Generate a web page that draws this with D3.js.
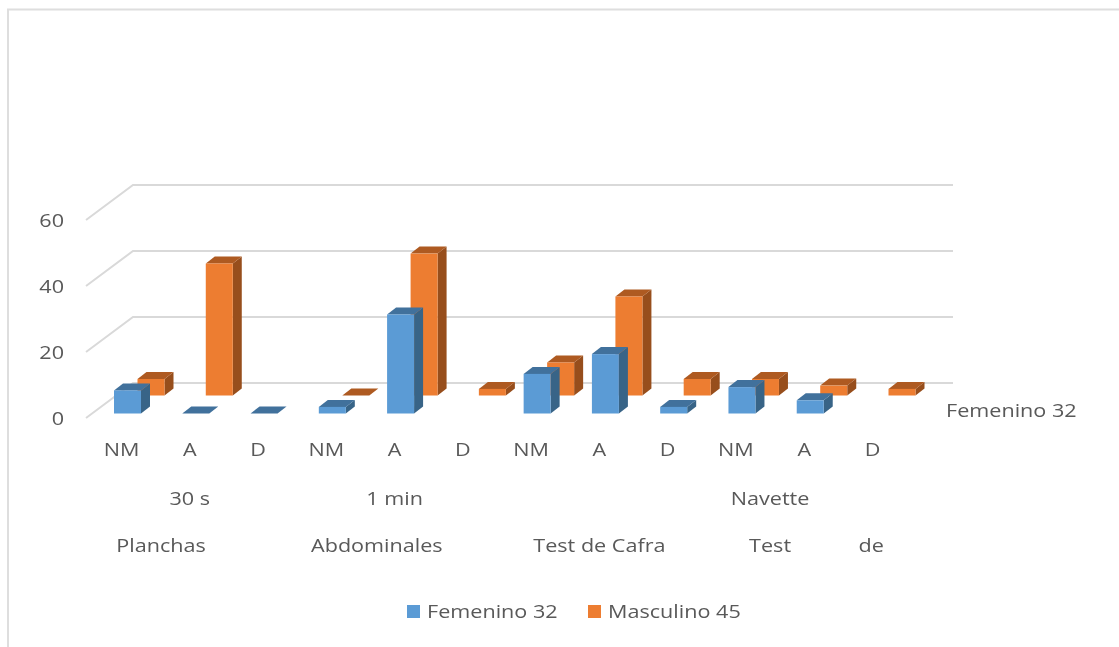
<!DOCTYPE html>
<html>
<head>
<meta charset="utf-8">
<script src="https://cdn.jsdelivr.net/npm/d3@7"></script>
<style>
  html, body { margin: 0; padding: 0; background: #fff; }
  svg { filter: blur(0.5px); }
  text { font-family: "Open Sans", sans-serif; font-size: 18px; fill: #595959; }
</style>
</head>
<body>
<div id="chart"></div>
<script>
// values, null = no bar drawn
const levels = ["NM", "A", "D", "NM", "A", "D", "NM", "A", "D", "NM", "A", "D"];
const femenino = [7, 0, 0, 2, 30, null, 12, 18, 2, 8, 4, null];
const masculino = [5, 40, null, 0, 43, 2, 10, 30, 5, 5, 3, 2];
const yTicks = [0, 20, 40, 60];
const seriesNames = ["Femenino 32", "Masculino 45"];
const seriesColors = ["#5b9bd5", "#ed7d31"];
const topColors = ["#41719c", "#ae5a21"];
const sideColors = ["#386487", "#974e1c"];
// text and the (fractional) category it is centred on
const labels2 = [["30 s", 1], ["1 min", 4], ["Navette", 9.5]];
const labels3 = [["Planchas", 0.58], ["Abdominales", 3.74], ["Test de Cafra", 7], ["Test", 9.5], ["de", 10.98]];

const width = 1119, height = 647;

const svg = d3.select("#chart").append("svg")
  .attr("width", width)
  .attr("height", height);

// frame of the pasted picture
svg.append("path")
  .attr("d", "M8 647V9.5H1119")
  .attr("fill", "none")
  .attr("stroke", "#dedede")
  .attr("stroke-width", 2);

const y = d3.scaleLinear().domain([0, 60]).range([413.5, 215.5]);
const x = d3.scaleLinear().domain([0, 11]).range([127.5, 878.5]);
const barW = 27;

// how far the second row and the walls sit from the front
const row = { dx: 23.5, dy: -18 };
const depth = { dx: 9, dy: -7 };
const wallFront = { x: 86, dy: 4.5 };
const wallBack = { x: 133, dy: -30.5 };

const grid = svg.append("g")
  .attr("fill", "none")
  .attr("stroke", "#d9d9d9")
  .attr("stroke-width", 2);

yTicks.forEach(t => {
  grid.append("path")
    .attr("d", "M" + wallFront.x + " " + (y(t) + wallFront.dy) + "L" + wallBack.x + " " + (y(t) + wallBack.dy) + "H953");
});

// the text in the picture is stretched sideways
function place(px, py) {
  return "translate(" + px + "," + py + ") scale(1.2,1)";
}

svg.append("g").selectAll("text")
  .data(yTicks)
  .enter().append("text")
  .attr("transform", d => place(64, y(d) + 11))
  .attr("text-anchor", "end")
  .text(d => d);

function drawSeries(values, s, off) {
  const g = svg.append("g");
  values.forEach((v, i) => {
    if (v === null) return;
    const x0 = x(i) - barW / 2 + off.dx;
    const x1 = x0 + barW;
    const yb = y(0) + off.dy;
    const yt = y(v) + off.dy;
    g.append("polygon")
      .attr("points", [[x1, yt], [x1 + depth.dx, yt + depth.dy], [x1 + depth.dx, yb + depth.dy], [x1, yb]].join(" "))
      .attr("fill", sideColors[s]);
    g.append("polygon")
      .attr("points", [[x0, yt], [x0 + depth.dx, yt + depth.dy], [x1 + depth.dx, yt + depth.dy], [x1, yt]].join(" "))
      .attr("fill", topColors[s]);
    g.append("rect")
      .attr("x", x0)
      .attr("y", yt)
      .attr("width", barW)
      .attr("height", yb - yt)
      .attr("fill", seriesColors[s]);
  });
}

drawSeries(masculino, 1, row);
drawSeries(femenino, 0, { dx: 0, dy: 0 });

// category labels, three rows
svg.append("g").selectAll("text")
  .data(levels)
  .enter().append("text")
  .attr("transform", (d, i) => place(x(i) - 6, 456))
  .attr("text-anchor", "middle")
  .text(d => d);

svg.append("g").selectAll("text")
  .data(labels2)
  .enter().append("text")
  .attr("transform", d => place(x(d[1]) - 6, 505))
  .attr("text-anchor", "middle")
  .text(d => d[0]);

svg.append("g").selectAll("text")
  .data(labels3)
  .enter().append("text")
  .attr("transform", d => place(x(d[1]) - 6, 552))
  .attr("text-anchor", "middle")
  .text(d => d[0]);

svg.append("text")
  .attr("transform", place(946, 417))
  .text(seriesNames[0]);

// legend
const legendX = [407, 588];
seriesNames.forEach((n, i) => {
  svg.append("rect")
    .attr("x", legendX[i])
    .attr("y", 605)
    .attr("width", 13)
    .attr("height", 13)
    .attr("fill", seriesColors[i]);
  svg.append("text")
    .attr("transform", place(legendX[i] + 20, 618))
    .text(n);
});
</script>
</body>
</html>
